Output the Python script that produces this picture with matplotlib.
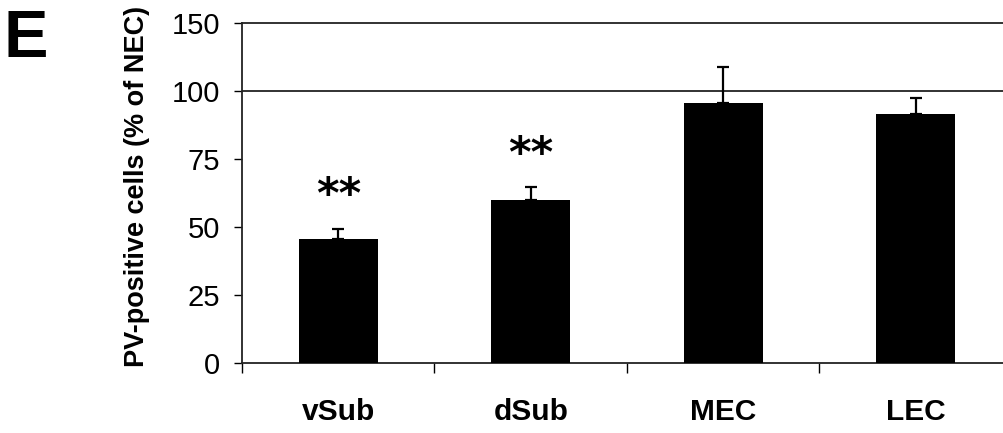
import matplotlib
matplotlib.use("Agg")
import matplotlib.pyplot as plt

# data
regions = ["vSub", "dSub", "MEC", "LEC"]
pv_mean = [45.7, 59.8, 95.6, 91.5]
pv_sem = [3.7, 4.8, 13.3, 5.9]
signif = ["**", "**", "", ""]
star_y = [61.5, 76.5, 0, 0]
# the original axis has its top tick labelled 150 at the 125 position
ytick_pos = [0, 25, 50, 75, 100, 125]
ytick_labels = ["0", "25", "50", "75", "100", "150"]

plt.rcParams['font.family'] = ['Liberation Sans', 'DejaVu Sans']

fig = plt.figure(figsize=(10.04, 4.33), dpi=100)
ax = fig.add_axes([242/1004, 70/433, 770/1004, 340/433])

x = list(range(len(regions)))
ax.bar(x, pv_mean, width=0.41, color='black', zorder=3)
ax.errorbar(x, pv_mean, yerr=[[0]*len(x), pv_sem], fmt='none', ecolor='black',
            elinewidth=1.6, capsize=4.5, capthick=1.6, zorder=2)

for xi, s, sy in zip(x, signif, star_y):
    if s:
        ax.text(xi, sy, s, ha='center', va='center', fontsize=31,
                family='DejaVu Sans', fontweight='bold')

ax.axhline(100, color='#222222', lw=1.3, zorder=1)

ax.set_xlim(-0.5, 3.5)
ax.set_ylim(0, 125)
ax.set_yticks(ytick_pos)
ax.set_yticklabels(ytick_labels, fontsize=21)
ax.set_xticks(x)
ax.set_xticklabels(regions, fontsize=21.5, fontweight='bold')
ax.set_xticks([-0.5, 0.5, 1.5, 2.5], minor=True)
ax.tick_params(axis='x', which='major', length=0, pad=25)
ax.tick_params(axis='x', which='minor', length=7, width=1, direction='out')
ax.tick_params(axis='y', length=6, width=1, pad=10, direction='out')

ax.spines['right'].set_visible(False)
for side in ['left', 'top', 'bottom']:
    ax.spines[side].set_linewidth(1.3)
    ax.spines[side].set_color('#222222')

fig.text(137/1004, 1-186/433, "PV-positive cells (% of NEC)", rotation=90,
         ha='center', va='center', fontsize=19.5, fontweight='bold')
fig.text(4/1004, 1-57/433, "E", ha='left', va='baseline', fontsize=48,
         fontweight='bold')

fig.savefig("out.png", dpi=100)
